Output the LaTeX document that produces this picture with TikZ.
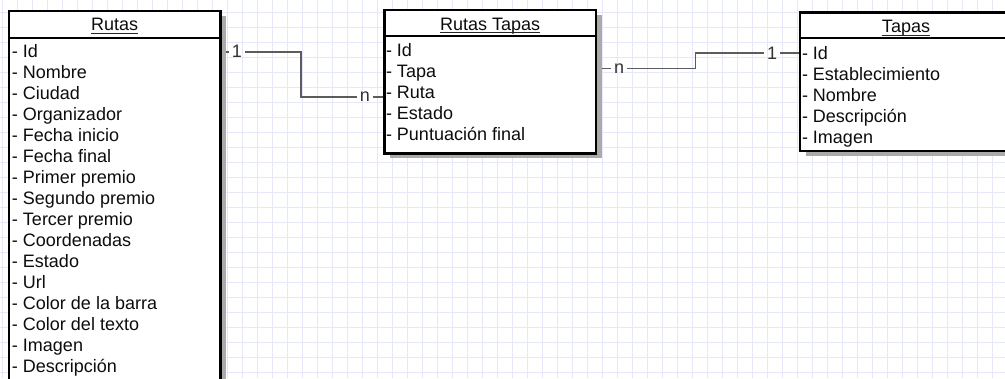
\documentclass[tikz,border=0pt]{standalone}
\usepackage{fontspec}
\setmainfont{Liberation Sans}
\usetikzlibrary{calc}

\definecolor{gridc}{RGB}{231,231,250}
\definecolor{linkc}{RGB}{92,92,92}
\definecolor{shadowc}{RGB}{170,170,170}

\begin{document}
\begin{tikzpicture}[x=1pt,y=-1pt,
  entity/.style={draw=black, line width=2.4pt, fill=white, outer sep=0pt,
                 inner sep=0pt, anchor=north west},
  shadowfill/.style={fill=shadowc},
  rowtext/.style={anchor=base west, inner sep=0pt,
                  font=\fontsize{18}{21}\selectfont, text=black!95},
  headtext/.style={anchor=base, inner sep=0pt,
                   font=\fontsize{18}{21}\selectfont, text=black!95},
  headrule/.style={line width=1pt, black!85},
  sep/.style={line width=2pt},
  card/.style={inner sep=3pt, font=\fontsize{18}{21}\selectfont, text=black!80},
  link/.style={draw=linkc, line width=1.9pt}]

  % canvas
  \useasboundingbox (0,0) rectangle (1005,378);
  \clip (0,0) rectangle (1005,378);
  \fill[white] (0,0) rectangle (1005,378);

  % squared paper
  \foreach \k in {0,...,67}
    \draw[gridc, line width=1.2pt] (2.7+15*\k,0) -- (2.7+15*\k,378);
  \foreach \k in {0,...,25}
    \draw[gridc, line width=1.2pt] (0,12.3+15*\k) -- (1005,12.3+15*\k);

  % entity frames (defined first so that shadows and links can refer to them)
  \path (9,11) node[entity, minimum width=211.3pt, minimum height=389pt] (rutas) {};
  \path (384.3,10) node[entity, minimum width=211.7pt, minimum height=143.3pt] (rtapas) {};
  \path (800,12.3) node[entity, minimum width=212pt, minimum height=138.7pt] (tapas) {};

  % cardinality labels
  \node[card] (c1) at (237,51.7) {1};
  \node[card] (n1) at (365,96.7) {n};
  \node[card] (n2) at (619,68.5) {n};
  \node[card] (c2) at (772,53) {1};

  % relationships
  \draw[link] (rutas.east |- c1) -- (c1.west);
  \draw[link] (c1.east) -| ($(c1)!.5!(n1)$) |- (n1.west);
  \draw[link] (n1.east) -- (rtapas.west |- n1);

  \draw[link] (rtapas.east |- n2) -- (n2.west);
  \draw[link] (n2.east) -| ($(n2)!.5!(c2)$) |- (c2.west);
  \draw[link] (c2.east) -- (tapas.west |- c2);

  % drop shadows
  \foreach \b in {rutas,rtapas,tapas}
    \fill[shadowfill] ($(\b.south west)+(6,5)$) rectangle ($(\b.north east)+(6,5)$);

  % frames on top of the shadows
  \foreach \b in {rutas,rtapas,tapas}
    \draw[black, line width=2.4pt, fill=white] (\b.north west) rectangle (\b.south east);

  % header separators
  \draw[sep] ($(rutas.north west)+(0,26.5)$) -- ($(rutas.north east)+(0,26.5)$);
  \draw[sep] ($(rtapas.north west)+(0,25.5)$) -- ($(rtapas.north east)+(0,25.5)$);
  \draw[sep] ($(tapas.north west)+(0,26)$) -- ($(tapas.north east)+(0,26)$);

  % titles, underlined
  \node[headtext] (rutas-title) at (114.6,30.7) {Rutas};
  \node[headtext] (rtapas-title) at (490.2,30) {Rutas Tapas};
  \node[headtext] (tapas-title) at (906,32.7) {Tapas};
  \foreach \t in {rutas-title,rtapas-title,tapas-title}
    \draw[headrule] ($(\t.base west)+(0,2.6)$) -- ($(\t.base east)+(0,2.6)$);

  % attributes
  \foreach \t [count=\i] in {Id, Nombre, Ciudad, Organizador, Fecha inicio,
      Fecha final, Primer premio, Segundo premio, Tercer premio, Coordenadas,
      Estado, Url, Color de la barra, Color del texto, Imagen, Descripción}
    \node[rowtext] (rutas-\i) at (11.8,57.3+21*\i-21) {- \t};

  \foreach \t [count=\i] in {Id, Tapa, Ruta, Estado, Puntuación final}
    \node[rowtext] (rtapas-\i) at (385.8,56.7+20.85*\i-20.85) {- \t};

  \foreach \t [count=\i] in {Id, Establecimiento, Nombre, Descripción, Imagen}
    \node[rowtext] (tapas-\i) at (801.8,59.3+21*\i-21) {- \t};
\end{tikzpicture}
\end{document}
